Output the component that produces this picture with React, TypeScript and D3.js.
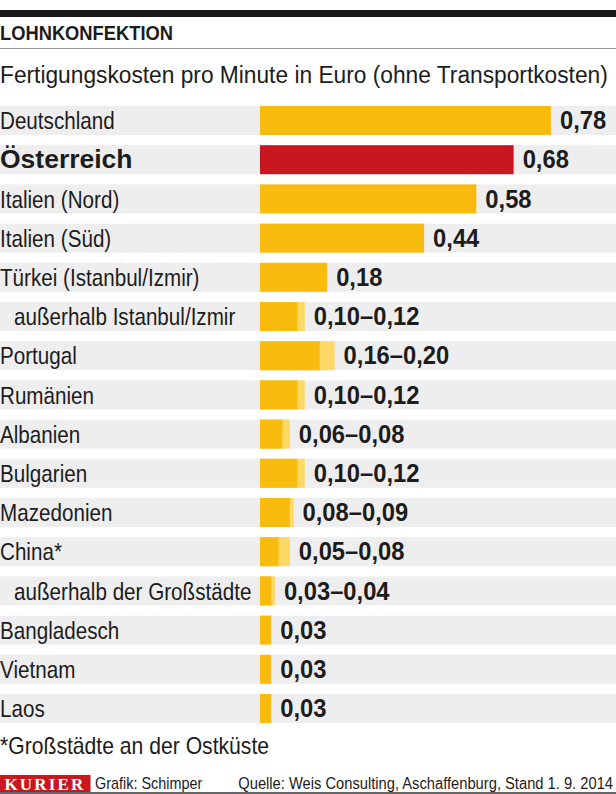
import React from "react";
import * as d3 from "d3";

const categories = [
  "Deutschland",
  "Österreich",
  "Italien (Nord)",
  "Italien (Süd)",
  "Türkei (Istanbul/Izmir)",
  "außerhalb Istanbul/Izmir",
  "Portugal",
  "Rumänien",
  "Albanien",
  "Bulgarien",
  "Mazedonien",
  "China*",
  "außerhalb der Großstädte",
  "Bangladesch",
  "Vietnam",
  "Laos",
];
const lowValues = [0.78, 0.68, 0.58, 0.44, 0.18, 0.1, 0.16, 0.1, 0.06, 0.1, 0.08, 0.05, 0.03, 0.03, 0.03, 0.03];
const highValues = [0.78, 0.68, 0.58, 0.44, 0.18, 0.12, 0.2, 0.12, 0.08, 0.12, 0.09, 0.08, 0.04, 0.03, 0.03, 0.03];
const indentedRows = ["außerhalb Istanbul/Izmir", "außerhalb der Großstädte"];
const highlightRow = "Österreich";

const title = "LOHNKONFEKTION";
const subtitle = "Fertigungskosten pro Minute in Euro (ohne Transportkosten)";
const footnote = "*Großstädte an der Ostküste";
const brand = "KURIER";
const credit = "Grafik: Schimper";
const source = "Quelle: Weis Consulting, Aschaffenburg, Stand 1. 9. 2014";

const W = 616;
const H = 794;
const FONT = "'Liberation Sans', Arial, sans-serif";
const C_DARK = "#f9bb0e";
const C_LIGHT = "#fdd865";
const C_RED = "#c8171e";
const C_BAND = "#efeeef";
const C_TEXT = "#1c1c1c";

const locale = d3.formatLocale({ decimal: ",", thousands: ".", grouping: [3], currency: ["", " €"] });
const fmt = locale.format(".2f");

export default function App() {
  const x = d3.scaleLinear().domain([0, 1]).range([260, 260 + 373]);
  const y = d3
    .scaleBand<string>()
    .domain(categories)
    .range([106, 106 + 16 * 39.2 - 10.2])
    .paddingInner(0.26)
    .paddingOuter(0);
  const bw = y.bandwidth();

  return (
    <svg
      width={W}
      height={H}
      viewBox={`0 0 ${W} ${H}`}
      style={{ position: "absolute", left: 0, top: 0, background: "#fff" }}
      fontFamily={FONT}
    >
      <rect x={0} y={0} width={W} height={H} fill="#fff" />
      <rect x={0} y={10} width={W} height={7} fill="#1a1a1a" />
      <text transform="translate(0,40) scale(0.94,1)" fontSize={19.5} fontWeight="bold" fill={C_TEXT}>
        {title}
      </text>
      <line x1={0} x2={W} y1={48.5} y2={48.5} stroke="#9a9a9a" strokeWidth={1} />
      <text transform="translate(0,82.7) scale(0.968,1)" fontSize={23.5} fill={C_TEXT}>
        {subtitle}
      </text>

      {categories.map((c, i) => {
        const top = y(c) as number;
        const lo = lowValues[i];
        const hi = highValues[i];
        const isRange = hi !== lo;
        const isHi = c === highlightRow;
        const label = isRange ? `${fmt(lo)}–${fmt(hi)}` : fmt(lo);
        const indent = indentedRows.includes(c) ? 14 : 0;
        return (
          <g key={c}>
            <rect x={0} y={top} width={W} height={bw} fill={C_BAND} />
            {isRange && (
              <rect x={x(0)} y={top} width={x(hi) - x(0)} height={bw} fill={C_LIGHT} />
            )}
            <rect
              x={x(0)}
              y={top}
              width={x(lo) - x(0)}
              height={bw}
              fill={isHi ? C_RED : C_DARK}
            />
            <text
              transform={`translate(${indent},${top + 23.3}) scale(${isHi ? 1.06 : 0.86},1)`}
              fontSize={isHi ? 25 : 24}
              fontWeight={isHi ? "bold" : "normal"}
              fill={C_TEXT}
            >
              {c}
            </text>
            <text
              transform={`translate(${x(hi) + 9},${top + 23.3}) scale(0.95,1)`}
              fontSize={25}
              fontWeight="bold"
              fill={C_TEXT}
            >
              {label}
            </text>
          </g>
        );
      })}

      <text transform="translate(0,754) scale(0.92,1)" fontSize={23} fill={C_TEXT}>
        {footnote}
      </text>

      <rect x={0} y={775} width={90.5} height={17} fill={C_RED} />
      <text
        x={45}
        y={790}
        textAnchor="middle"
        fontFamily="'Liberation Serif', 'Times New Roman', serif"
        fontSize={17}
        fontWeight="bold"
        letterSpacing={2.2}
        fill="#fff"
      >
        {brand}
      </text>
      <text transform="translate(95,789) scale(0.9,1)" fontSize={16} fill={C_TEXT}>
        {credit}
      </text>
      <text transform="translate(613,789) scale(0.92,1)" fontSize={16} textAnchor="end" fill={C_TEXT}>
        {source}
      </text>
      <line x1={0} x2={W} y1={793} y2={793} stroke="#333" strokeWidth={1.5} />
    </svg>
  );
}
